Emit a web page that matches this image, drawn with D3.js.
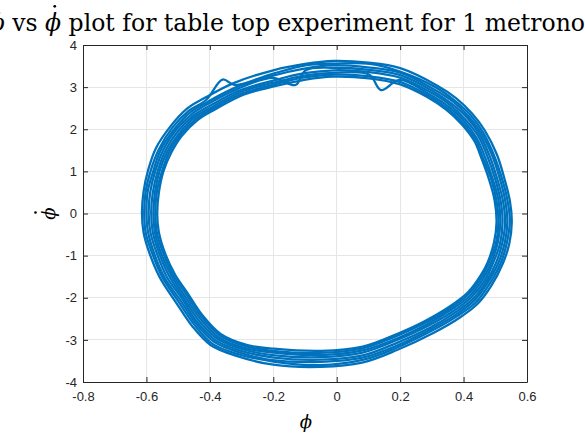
<!DOCTYPE html>
<html>
<head>
<meta charset="utf-8">
<script src="https://cdn.jsdelivr.net/npm/d3@7"></script>
<style>
  html, body { margin: 0; padding: 0; background: #fff; }
  svg { display: block; }
  .tick text { font-family: 'Liberation Sans', Arial, Helvetica, sans-serif; font-size: 13px; }
</style>
</head>
<body>
<svg id="chart" width="585" height="434"></svg>
<script>
// Phase portrait of one metronome: angle phi against angular velocity phi-dot.
// Each cycle is a list of [phi, phiDot] samples around one swing.
const cycle1 = [[-0.614,0.02],[-0.609,0.52],[-0.595,1.02],[-0.570,1.55],[-0.523,2.08],[-0.472,2.49],[-0.417,2.74],[-0.327,3.09],[-0.200,3.40],[-0.100,3.55],[-0.010,3.62],[0.100,3.58],[0.200,3.45],[0.316,3.04],[0.376,2.74],[0.426,2.38],[0.467,1.97],[0.505,1.40],[0.529,0.82],[0.546,0.30],[0.552,-0.20],[0.544,-0.72],[0.524,-1.18],[0.487,-1.72],[0.446,-2.13],[0.386,-2.48],[0.306,-2.83],[0.190,-3.24],[0.080,-3.54],[-0.050,-3.64],[-0.200,-3.59],[-0.316,-3.38],[-0.398,-3.12],[-0.456,-2.67],[-0.506,-2.12],[-0.557,-1.53],[-0.589,-0.97],[-0.609,-0.45]];
const cycle2 = [[-0.607,-0.02],[-0.603,0.49],[-0.586,1.03],[-0.561,1.52],[-0.517,2.05],[-0.466,2.44],[-0.411,2.70],[-0.360,3.18],[-0.321,3.05],[-0.205,3.31],[-0.095,3.52],[-0.005,3.56],[0.105,3.55],[0.195,3.38],[0.311,3.00],[0.372,2.68],[0.420,2.35],[0.462,1.92],[0.497,1.36],[0.523,0.78],[0.538,0.33],[0.546,-0.18],[0.536,-0.71],[0.518,-1.16],[0.482,-1.67],[0.440,-2.10],[0.381,-2.43],[0.301,-2.78],[0.185,-3.20],[0.085,-3.47],[-0.055,-3.60],[-0.195,-3.52],[-0.311,-3.34],[-0.393,-3.09],[-0.451,-2.62],[-0.500,-2.08],[-0.550,-1.51],[-0.582,-0.94],[-0.602,-0.47]];
const cycle3 = [[-0.600,0.01],[-0.596,0.52],[-0.579,0.99],[-0.556,1.49],[-0.511,2.01],[-0.462,2.40],[-0.405,2.66],[-0.316,3.00],[-0.198,3.28],[-0.102,3.44],[-0.012,3.52],[0.098,3.47],[0.202,3.34],[0.306,2.95],[0.366,2.66],[0.416,2.30],[0.456,1.90],[0.490,1.38],[0.515,0.81],[0.532,0.28],[0.538,-0.21],[0.530,-0.69],[0.510,-1.17],[0.476,-1.64],[0.436,-2.05],[0.376,-2.40],[0.296,-2.75],[0.192,-3.13],[0.078,-3.43],[-0.048,-3.52],[-0.202,-3.48],[-0.306,-3.30],[-0.388,-3.04],[-0.446,-2.59],[-0.494,-2.05],[-0.543,-1.52],[-0.575,-0.96],[-0.595,-0.44]];
const cycle4 = [[-0.593,-0.01],[-0.588,0.51],[-0.572,1.01],[-0.547,1.51],[-0.507,1.98],[-0.457,2.36],[-0.402,2.62],[-0.312,2.96],[-0.202,3.22],[-0.130,3.05],[-0.098,3.40],[-0.010,3.46],[0.102,3.41],[0.198,3.29],[0.302,2.91],[0.362,2.61],[0.412,2.27],[0.452,1.86],[0.483,1.35],[0.507,0.80],[0.524,0.31],[0.531,-0.20],[0.522,-0.70],[0.503,-1.16],[0.472,-1.61],[0.432,-2.01],[0.372,-2.36],[0.292,-2.72],[0.190,-3.07],[0.082,-3.37],[-0.050,-3.47],[-0.198,-3.42],[-0.302,-3.26],[-0.384,-3.00],[-0.442,-2.56],[-0.489,-2.01],[-0.536,-1.50],[-0.567,-0.95],[-0.587,-0.46]];
const cycle5 = [[-0.585,0.02],[-0.580,0.49],[-0.565,0.99],[-0.541,1.48],[-0.502,1.94],[-0.452,2.32],[-0.397,2.57],[-0.307,2.92],[-0.198,3.16],[-0.102,3.33],[-0.008,3.40],[0.098,3.36],[0.202,3.22],[0.297,2.87],[0.357,2.58],[0.407,2.22],[0.447,1.83],[0.476,1.34],[0.500,0.81],[0.517,0.29],[0.523,-0.19],[0.515,-0.71],[0.495,-1.14],[0.467,-1.58],[0.427,-1.97],[0.367,-2.32],[0.287,-2.67],[0.188,-3.01],[0.078,-3.31],[-0.052,-3.41],[-0.202,-3.36],[-0.297,-3.22],[-0.379,-2.96],[-0.437,-2.52],[-0.485,-1.98],[-0.528,-1.49],[-0.560,-0.94],[-0.580,-0.44]];
const cycle6 = [[-0.578,-0.02],[-0.573,0.50],[-0.558,1.02],[-0.534,1.47],[-0.497,1.90],[-0.447,2.29],[-0.392,2.53],[-0.302,2.89],[-0.202,3.10],[-0.098,3.28],[-0.012,3.34],[0.102,3.30],[0.140,2.93],[0.198,3.17],[0.292,2.83],[0.352,2.54],[0.402,2.19],[0.442,1.78],[0.468,1.33],[0.493,0.79],[0.510,0.32],[0.516,-0.21],[0.508,-0.68],[0.488,-1.15],[0.462,-1.54],[0.422,-1.94],[0.362,-2.28],[0.282,-2.64],[0.192,-2.96],[0.082,-3.25],[-0.048,-3.36],[-0.198,-3.30],[-0.292,-3.19],[-0.374,-2.93],[-0.432,-2.48],[-0.480,-1.95],[-0.521,-1.48],[-0.553,-0.96],[-0.573,-0.45]];
const cycle7 = [[-0.572,0.01],[-0.567,0.52],[-0.552,0.98],[-0.528,1.46],[-0.493,1.87],[-0.443,2.25],[-0.388,2.50],[-0.298,2.85],[-0.198,3.06],[-0.102,3.23],[-0.008,3.30],[0.098,3.26],[0.202,3.12],[0.288,2.80],[0.348,2.50],[0.398,2.15],[0.438,1.75],[0.462,1.30],[0.487,0.82],[0.504,0.29],[0.510,-0.19],[0.502,-0.72],[0.482,-1.13],[0.458,-1.50],[0.418,-1.90],[0.358,-2.25],[0.278,-2.60],[0.188,-2.91],[0.078,-3.21],[-0.052,-3.31],[-0.202,-3.26],[-0.288,-3.15],[-0.370,-2.89],[-0.428,-2.44],[-0.476,-1.90],[-0.515,-1.47],[-0.547,-0.94],[-0.567,-0.46]];
const cycle8 = [[-0.566,-0.01],[-0.561,0.49],[-0.546,1.01],[-0.522,1.44],[-0.489,1.84],[-0.439,2.22],[-0.384,2.47],[-0.294,2.82],[-0.202,3.01],[-0.098,3.18],[-0.012,3.25],[0.102,3.21],[0.198,3.07],[0.284,2.77],[0.344,2.47],[0.394,2.12],[0.434,1.72],[0.456,1.32],[0.481,0.79],[0.498,0.31],[0.504,-0.21],[0.496,-0.69],[0.476,-1.16],[0.454,-1.47],[0.414,-1.87],[0.354,-2.22],[0.274,-2.57],[0.190,-2.86],[0.082,-3.16],[-0.048,-3.26],[-0.198,-3.21],[-0.284,-3.12],[-0.366,-2.86],[-0.424,-2.41],[-0.472,-1.87],[-0.509,-1.46],[-0.541,-0.95],[-0.561,-0.44]];
const cycles = [cycle1, cycle2, cycle3, cycle4, cycle5, cycle6, cycle7, cycle8];

const xTicks = [-0.8, -0.6, -0.4, -0.2, 0, 0.2, 0.4, 0.6];
const xTickLabels = ["-0.8", "-0.6", "-0.4", "-0.2", "0", "0.2", "0.4", "0.6"];
const yTicks = [-4, -3, -2, -1, 0, 1, 2, 3, 4];
const yTickLabels = ["-4", "-3", "-2", "-1", "0", "1", "2", "3", "4"];
const titleParts = [
  { text: "ϕ", italic: true },
  { text: " vs ", italic: false },
  { text: "ϕ", italic: true },
  { text: " plot for table top experiment for 1 metronome", italic: false }
];

const svg = d3.select("#chart");
const plot = { left: 83, right: 527, top: 45, bottom: 382 };
const x = d3.scaleLinear().domain([-0.8, 0.6]).range([plot.left, plot.right]);
const y = d3.scaleLinear().domain([-4, 4]).range([plot.bottom, plot.top]);

const axisColor = "#262626";
const gridColor = "#e6e6e6";
const lineColor = "#0072bd";
const serifFont = "'DejaVu Serif', 'Liberation Serif', serif";

// Grid
const grid = svg.append("g");
grid.selectAll("line.gx").data(xTicks).join("line")
  .attr("x1", d => x(d)).attr("x2", d => x(d))
  .attr("y1", plot.top).attr("y2", plot.bottom)
  .attr("stroke", gridColor).attr("stroke-width", 1).attr("shape-rendering", "crispEdges");
grid.selectAll("line.gy").data(yTicks).join("line")
  .attr("x1", plot.left).attr("x2", plot.right)
  .attr("y1", d => y(d)).attr("y2", d => y(d))
  .attr("stroke", gridColor).attr("stroke-width", 1).attr("shape-rendering", "crispEdges");

// Trajectory
svg.append("clipPath").attr("id", "plotclip").append("rect")
  .attr("x", plot.left).attr("y", plot.top)
  .attr("width", plot.right - plot.left).attr("height", plot.bottom - plot.top);
const line = d3.line()
  .x(d => x(d[0]))
  .y(d => y(d[1]))
  .curve(d3.curveCatmullRomClosed.alpha(0.5));
svg.append("g").attr("clip-path", "url(#plotclip)")
  .selectAll("path").data(cycles).join("path")
  .attr("d", line)
  .attr("fill", "none")
  .attr("stroke", lineColor)
  .attr("stroke-width", 2.3)
  .attr("stroke-linejoin", "round");

// Axes (ticks point inward, box on all four sides)
const tickLen = 5;
const fmtX = (d, i) => xTickLabels[i];
const fmtY = (d, i) => yTickLabels[i];
function styleAxis(g) {
  g.attr("font-size", null).attr("font-family", null);
  g.select(".domain").attr("stroke", axisColor).attr("stroke-width", 1);
  g.selectAll(".tick line").attr("stroke", axisColor).attr("stroke-width", 1);
  g.selectAll(".tick text").attr("fill", axisColor);
}
svg.append("g").attr("transform", `translate(0,${plot.bottom})`)
  .call(d3.axisBottom(x).tickValues(xTicks).tickFormat(fmtX)
    .tickSizeInner(-tickLen).tickSizeOuter(0).tickPadding(10))
  .call(styleAxis);
svg.append("g").attr("transform", `translate(${plot.left},0)`)
  .call(d3.axisLeft(y).tickValues(yTicks).tickFormat(fmtY)
    .tickSizeInner(-tickLen).tickSizeOuter(0).tickPadding(6))
  .call(styleAxis);
svg.append("g").attr("transform", `translate(0,${plot.top})`)
  .call(d3.axisTop(x).tickValues(xTicks).tickFormat("")
    .tickSizeInner(-tickLen).tickSizeOuter(0))
  .call(styleAxis);
svg.append("g").attr("transform", `translate(${plot.right},0)`)
  .call(d3.axisRight(y).tickValues(yTicks).tickFormat("")
    .tickSizeInner(-tickLen).tickSizeOuter(0))
  .call(styleAxis);

// Axis labels
svg.append("text")
  .attr("x", (plot.left + plot.right) / 2 + 1).attr("y", 428)
  .attr("text-anchor", "middle")
  .attr("font-family", serifFont).attr("font-style", "italic")
  .attr("font-size", 18).attr("fill", "#000")
  .text("ϕ");
const yLab = svg.append("g").attr("transform", `translate(55,${(plot.top + plot.bottom) / 2}) rotate(-90)`);
yLab.append("text")
  .attr("text-anchor", "middle")
  .attr("font-family", serifFont).attr("font-style", "italic")
  .attr("font-size", 18).attr("fill", "#000")
  .text("ϕ");
yLab.append("circle").attr("cx", 1).attr("cy", -19.5).attr("r", 1.3).attr("fill", "#000");

// Title, centred over the axes; sized so the line runs past both edges
const titleBase = 31;
const title = svg.append("text")
  .attr("y", titleBase)
  .attr("font-family", serifFont)
  .attr("font-size", 20)
  .attr("fill", "#000");
title.selectAll("tspan").data(titleParts).join("tspan")
  .attr("font-style", d => d.italic ? "italic" : "normal")
  .text(d => d.text);
const cx = (plot.left + plot.right) / 2;
function layoutTitle() {
  const w = title.node().getComputedTextLength();
  title.attr("x", cx - w / 2);
  return w;
}
let w0 = layoutTitle();
const vsOffset0 = title.node().getStartPositionOfChar(2).x - (cx - w0 / 2);
const k = (cx - 12) / (w0 / 2 - vsOffset0);
const titleSize = 20 * k;
title.attr("font-size", titleSize);
layoutTitle();
// dot over the second phi
const phiBox = title.node().getExtentOfChar(5);
svg.append("circle")
  .attr("cx", phiBox.x + phiBox.width * 0.6)
  .attr("cy", titleBase - titleSize * 1.05)
  .attr("r", 1.4)
  .attr("fill", "#000");
</script>
</body>
</html>
